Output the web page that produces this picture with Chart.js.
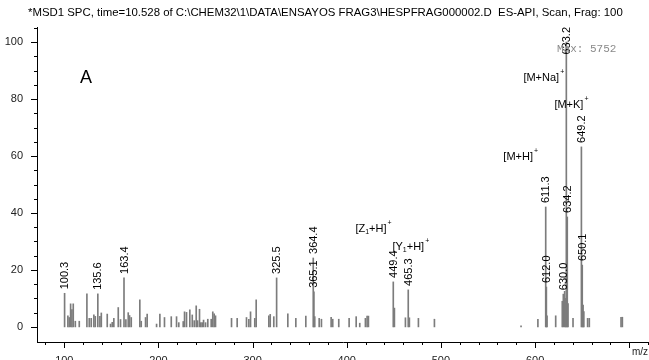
<!DOCTYPE html>
<html>
<head>
<meta charset="utf-8">
<script src="https://cdn.jsdelivr.net/npm/chart.js@4"></script>
<style>
  body { margin: 0; background: #fff; }
</style>
</head>
<body>
<canvas id="spectrum" width="649" height="360"></canvas>
<script>
// labelled peaks (m/z, % abundance)
const peakMz = [100.3, 135.6, 163.4, 325.5, 364.4, 365.1, 449.4, 465.3, 611.3, 612.0, 630.0, 633.2, 634.2, 649.2, 650.1];
const peakInt = [11.8, 11.6, 17.2, 17.2, 24.2, 12.3, 15.8, 13.0, 42.1, 14.0, 11.5, 100, 38.6, 63.2, 21.7];

// small unlabelled ions
const noiseMz = [103.8, 105.3, 106.7, 108.1, 109.5, 111.7, 115.9, 124.0, 126.5, 128.6, 131.4, 132.9, 137.8, 139.3,
  145.6, 149.1, 150.9, 152.6, 157.3, 159.7, 165.4, 167.9, 169.3, 171.1, 180.2, 181.7, 186.3, 188.0, 198.0, 201.5,
  206.4, 213.6, 219.2, 221.6, 226.3, 227.7, 229.8, 233.3, 235.9, 238.0, 240.1, 241.5, 243.6, 245.0, 246.5, 247.9,
  250.0, 252.4, 256.0, 257.7, 259.2, 260.6, 277.6, 283.6, 293.5, 296.0, 297.8, 302.3, 303.8, 317.2, 318.7, 322.5,
  337.4, 345.9, 356.5, 366.0, 370.7, 373.1, 383.4, 385.1, 391.5, 402.5, 410.0, 413.8, 419.8, 421.6, 423.0, 450.6,
  462.3, 466.5, 476.1, 493.1, 585.1, 603.0, 612.7, 621.9, 628.9, 631.4, 632.3, 635.0, 640.3, 651.0, 651.8, 655.8,
  657.6, 691.3, 692.7];
const noiseInt = [3.9, 3.3, 8.1, 6.1, 8.1, 2.0, 2.0, 11.6, 3.0, 3.0, 4.2, 3.7, 3.7, 4.9,
  4.5, 1.0, 1.6, 3.0, 6.8, 2.6, 2.6, 5.0, 4.0, 3.3, 9.5, 2.0, 3.3, 4.5, 1.0, 4.5,
  3.3, 3.6, 3.6, 1.5, 1.9, 5.3, 5.1, 6.0, 4.2, 2.2, 7.4, 2.2, 6.2, 1.5, 1.5, 2.4,
  1.5, 2.7, 2.7, 5.3, 4.6, 3.9, 3.0, 3.0, 3.3, 2.7, 5.3, 3.0, 9.5, 3.9, 4.4, 3.6,
  4.6, 3.0, 3.8, 3.6, 3.0, 2.7, 3.4, 2.7, 2.7, 3.0, 3.6, 1.3, 3.0, 3.8, 3.8, 6.6,
  3.2, 3.2, 3.0, 2.7, 0.4, 2.7, 3.9, 3.9, 9.0, 12.5, 10.0, 8.2, 3.0, 7.7, 5.4, 3.0,
  3.0, 3.4, 3.4];

// tick values
const xTicks = [80, 100, 120, 140, 160, 180, 200, 220, 240, 260, 280, 300, 320, 340, 360, 380, 400, 420, 440, 460,
  480, 500, 520, 540, 560, 580, 600, 620, 640, 660, 680, 700, 720];
const xLabels = [100, 200, 300, 400, 500, 600];
const yTicks = [0, 5, 10, 15, 20, 25, 30, 35, 40, 45, 50, 55, 60, 65, 70, 75, 80, 85, 90, 95, 100, 105];
const yLabels = [0, 20, 40, 60, 80, 100];

const FONT = "'Liberation Sans', Arial, sans-serif";
const BAR = "#7c7c7c";

// ion annotations, anchored in data coordinates
const ions = [
  { at: [587.6, 87.4], parts: [["[M+Na]", "n"], ["+", "sup"]] },
  { at: [620.5, 77.9], parts: [["[M+K]", "n"], ["+", "sup"]] },
  { at: [566.3, 59.6], parts: [["[M+H]", "n"], ["+", "sup"]] },
  { at: [409.2, 34.4], parts: [["[Z", "n"], ["1", "sub"], ["+H]", "n"], ["+", "sup"]] },
  { at: [448.5, 28.1], parts: [["[Y", "n"], ["1", "sub"], ["+H]", "n"], ["+", "sup"]] },
];

function drawIon(ctx, parts, x, y) {
  parts.forEach(([txt, kind]) => {
    if (kind === "n") {
      ctx.font = "11px " + FONT;
      ctx.fillText(txt, x, y);
    } else if (kind === "sup") {
      ctx.font = "7px " + FONT;
      ctx.fillText(txt, x + 1, y - 6);
    } else {
      ctx.font = "7px " + FONT;
      ctx.fillText(txt, x, y + 3);
    }
    x += ctx.measureText(txt).width + (kind === "sup" ? 1 : 0);
  });
}

const spectrumPlugin = {
  id: "spectrum",
  afterDraw(chart) {
    const ctx = chart.ctx;
    const xs = chart.scales.x;
    const ys = chart.scales.y;
    const area = chart.chartArea;
    ctx.save();

    // tick marks
    ctx.fillStyle = "#000";
    xTicks.forEach((v) => {
      const px = Math.round(xs.getPixelForValue(v));
      const len = v % 100 === 0 ? 6 : 3;
      ctx.fillRect(px, Math.round(area.bottom), 1, len);
    });
    yTicks.forEach((v) => {
      const py = Math.round(ys.getPixelForValue(v));
      const len = v % 20 === 0 ? 6 : 3;
      ctx.fillRect(Math.round(area.left) - len, py, len, 1);
    });

    // peak labels, rotated
    ctx.fillStyle = "#000";
    ctx.font = "11px " + FONT;
    ctx.textBaseline = "middle";
    ctx.textAlign = "left";
    peakMz.forEach((mz, i) => {
      const txt = mz.toFixed(1);
      const w = ctx.measureText(txt).width;
      const px = xs.getPixelForValue(mz);
      let bottom = ys.getPixelForValue(peakInt[i]) - 4;
      if (bottom - w < area.top) bottom = area.top + w;
      ctx.save();
      ctx.translate(px + 0.5, bottom);
      ctx.rotate(-Math.PI / 2);
      ctx.fillText(txt, 0, 0);
      ctx.restore();
    });

    // ion annotations
    ions.forEach((ion) => {
      drawIon(ctx, ion.parts, xs.getPixelForValue(ion.at[0]), ys.getPixelForValue(ion.at[1]));
    });

    // header, panel letter, max counts, axis unit
    ctx.fillStyle = "#000";
    ctx.font = "11.4px " + FONT;
    ctx.textAlign = "left";
    ctx.fillText("*MSD1 SPC, time=10.528 of C:\\CHEM32\\1\\DATA\\ENSAYOS FRAG3\\HESPFRAG000002.D  ES-API, Scan, Frag: 100", 28, 13);
    ctx.font = "18px " + FONT;
    ctx.fillText("A", 80, 78);
    ctx.fillStyle = "#8a8a8a";
    ctx.font = "11px 'Liberation Mono', 'DejaVu Sans Mono', monospace";
    ctx.fillText("Max: 5752", 557, 49);
    ctx.fillStyle = "#222";
    ctx.font = "10px " + FONT;
    ctx.textAlign = "right";
    ctx.fillText("m/z", 648, 352);
    ctx.restore();
  },
};

new Chart(document.getElementById("spectrum"), {
  type: "bar",
  plugins: [spectrumPlugin],
  data: {
    datasets: [
      {
        label: "noise",
        data: noiseMz.map((mz, i) => ({ x: mz, y: noiseInt[i] })),
        backgroundColor: BAR,
        barThickness: 1,
        grouped: false,
      },
      {
        label: "peaks",
        data: peakMz.map((mz, i) => ({ x: mz, y: peakInt[i] })),
        backgroundColor: BAR,
        barThickness: 1,
        grouped: false,
      },
    ],
  },
  options: {
    responsive: false,
    animation: false,
    layout: { padding: { top: 27, left: 0, right: 0, bottom: 0 } },
    plugins: {
      legend: { display: false },
      tooltip: { enabled: false },
    },
    scales: {
      x: {
        type: "linear",
        offset: false,
        min: 71,
        max: 721,
        grid: { display: false },
        border: { display: true, color: "#000", width: 1 },
        afterFit: (scale) => { scale.height = 18; },
        afterBuildTicks: (scale) => {
          scale.ticks = xLabels.map((v) => ({ value: v }));
        },
        ticks: {
          autoSkip: false,
          maxRotation: 0,
          padding: 4,
          color: "#222",
          font: { family: FONT, size: 11 },
        },
      },
      y: {
        min: -5.3,
        max: 105.3,
        grid: { display: false },
        border: { display: true, color: "#000", width: 1 },
        afterFit: (scale) => { scale.width = 37; },
        afterBuildTicks: (scale) => {
          scale.ticks = yLabels.map((v) => ({ value: v }));
        },
        ticks: {
          autoSkip: false,
          padding: 6,
          color: "#222",
          font: { family: FONT, size: 11 },
        },
      },
    },
  },
});
</script>
</body>
</html>
